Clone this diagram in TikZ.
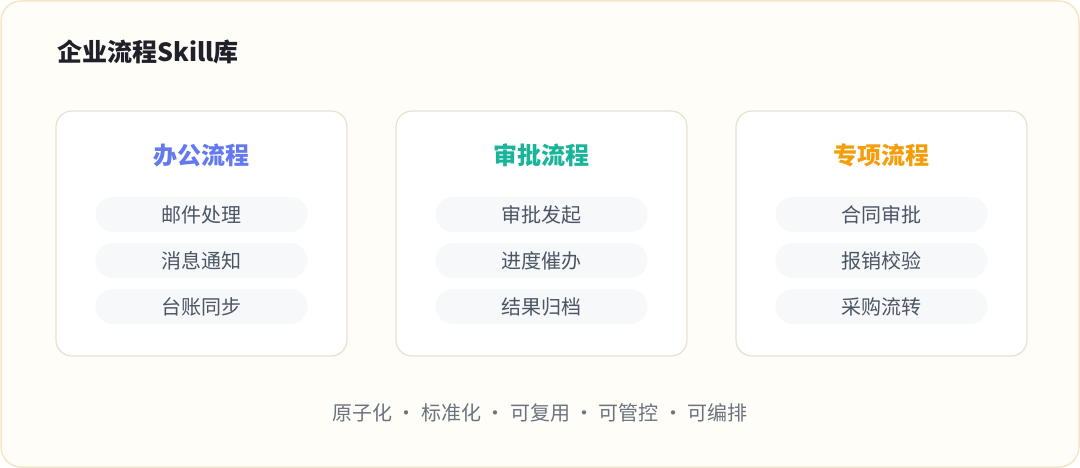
\documentclass[tikz,border=0pt]{standalone}
\usepackage{fontspec}
\setmainfont{Noto Sans CJK SC}
\definecolor{bgfill}{HTML}{FFFDF7}
\definecolor{bgline}{HTML}{F3E7C8}
\definecolor{cardline}{HTML}{E9E1D2}
\definecolor{pillfill}{HTML}{F7F8FA}
\definecolor{itemtxt}{HTML}{4B5563}
\definecolor{foottxt}{HTML}{6B7280}
\definecolor{titletxt}{HTML}{1F2029}
\definecolor{cblue}{HTML}{6479EE}
\definecolor{cgreen}{HTML}{19B49A}
\definecolor{corange}{HTML}{F59E0B}
\tikzset{
  card/.style={draw=cardline, line width=1.2pt, fill=white, rounded corners=16pt},
  pill/.style={fill=pillfill, rounded corners=17.5pt, minimum width=212pt, minimum height=35pt, inner sep=0pt,
    text=itemtxt, font=\fontsize{20}{22}\selectfont},
  cardtitle/.style={font=\fontsize{24}{28}\selectfont\bfseries, inner sep=0pt},
}
\begin{document}
\begin{tikzpicture}[x=1pt,y=-1pt]
\useasboundingbox (0,0) rectangle (1080,468);
\draw[draw=bgline, line width=1.5pt, fill=bgfill, rounded corners=20pt] (1,1) rectangle (1079,467);
\node[anchor=west, inner sep=0pt, text=titletxt, font=\fontsize{25}{28}\selectfont\bfseries] (title) at (57,52) {企业流程Skill库};
\foreach \x/\name/\col/\t/\a/\b/\c in {
  56/office/cblue/办公流程/邮件处理/消息通知/台账同步,
  396/approve/cgreen/审批流程/审批发起/进度催办/结果归档,
  736/special/corange/专项流程/合同审批/报销校验/采购流转}{
  \draw[card] (\x,111) rectangle ++(291,245);
  \node[cardtitle, text=\col] (\name-title) at (\x+145.5,155) {\t};
  \node[pill] (\name-1) at (\x+145.5,214.5) {\a};
  \node[pill] (\name-2) at (\x+145.5,260.5) {\b};
  \node[pill] (\name-3) at (\x+145.5,306.5) {\c};
}
\node[text=foottxt, font=\fontsize{20}{22}\selectfont, inner sep=0pt] (foot) at (540,413) {原子化 · 标准化 · 可复用 · 可管控 · 可编排};
\end{tikzpicture}
\end{document}
